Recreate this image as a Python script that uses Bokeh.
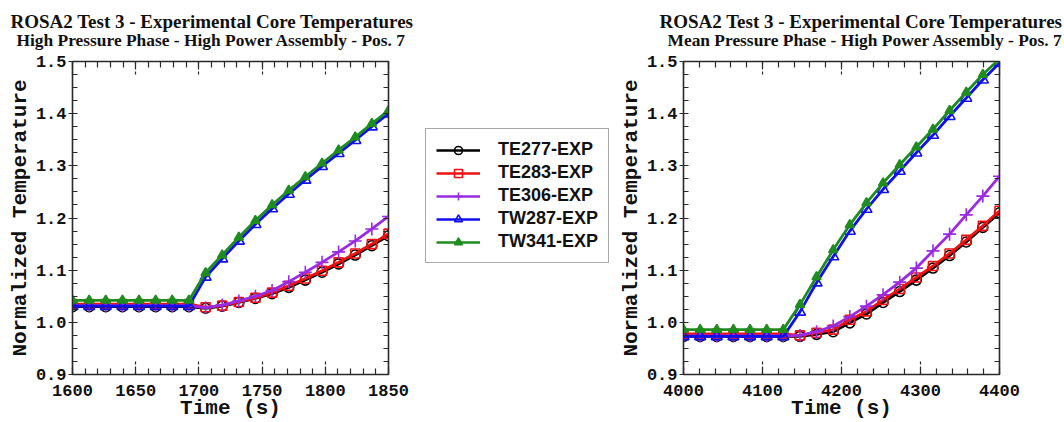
from bokeh.plotting import figure
from bokeh.layouts import row
from bokeh.models import (Range1d, LinearAxis, SingleIntervalTicker, Title, Legend,
                          LegendItem, PrintfTickFormatter)
from bokeh.embed import file_html
from bokeh.resources import INLINE

# ---------------- data ----------------
series_names = ["TE277-EXP", "TE283-EXP", "TE306-EXP", "TW287-EXP", "TW341-EXP"]

time_high = [1600.0, 1613.2, 1626.3, 1639.5, 1652.6, 1665.8, 1678.9, 1692.1, 1705.3, 1718.4,
             1731.6, 1744.7, 1757.9, 1771.1, 1784.2, 1797.4, 1810.5, 1823.7, 1836.8, 1850.0]
te277_high = [1.030, 1.030, 1.030, 1.030, 1.030, 1.030, 1.030, 1.030, 1.027, 1.031,
              1.038, 1.046, 1.055, 1.067, 1.081, 1.096, 1.112, 1.129, 1.147, 1.166]
te283_high = [1.035, 1.035, 1.035, 1.035, 1.035, 1.035, 1.035, 1.035, 1.029, 1.032,
              1.039, 1.047, 1.057, 1.070, 1.084, 1.099, 1.115, 1.132, 1.150, 1.170]
te306_high = [1.032, 1.032, 1.032, 1.032, 1.032, 1.032, 1.032, 1.032, 1.028, 1.033,
              1.041, 1.050, 1.061, 1.078, 1.096, 1.115, 1.135, 1.156, 1.179, 1.203]
tw287_high = [1.031, 1.031, 1.031, 1.031, 1.031, 1.031, 1.031, 1.031, 1.087, 1.122,
              1.156, 1.188, 1.218, 1.246, 1.273, 1.299, 1.324, 1.349, 1.375, 1.400]
tw341_high = [1.042, 1.042, 1.042, 1.042, 1.042, 1.042, 1.042, 1.042, 1.095, 1.129,
              1.163, 1.195, 1.225, 1.253, 1.279, 1.305, 1.330, 1.355, 1.381, 1.406]

time_mean = [4000.0, 4021.1, 4042.1, 4063.2, 4084.2, 4105.3, 4126.3, 4147.4, 4168.4, 4189.5,
             4210.5, 4231.6, 4252.6, 4273.7, 4294.7, 4315.8, 4336.8, 4357.9, 4378.9, 4400.0]
te277_mean = [0.973, 0.973, 0.973, 0.973, 0.973, 0.973, 0.973, 0.973, 0.977, 0.982,
              0.999, 1.016, 1.038, 1.059, 1.081, 1.104, 1.128, 1.154, 1.182, 1.210]
te283_mean = [0.978, 0.978, 0.978, 0.978, 0.978, 0.978, 0.978, 0.975, 0.980, 0.986,
              1.005, 1.021, 1.043, 1.064, 1.086, 1.108, 1.132, 1.158, 1.185, 1.214]
te306_mean = [0.974, 0.974, 0.974, 0.974, 0.974, 0.974, 0.974, 0.975, 0.982, 0.993,
              1.011, 1.031, 1.053, 1.077, 1.104, 1.137, 1.169, 1.206, 1.242, 1.280]
tw287_mean = [0.973, 0.973, 0.973, 0.973, 0.973, 0.973, 0.973, 1.020, 1.076, 1.126,
              1.175, 1.217, 1.255, 1.290, 1.325, 1.359, 1.395, 1.430, 1.465, 1.497]
tw341_mean = [0.986, 0.986, 0.986, 0.986, 0.986, 0.986, 0.986, 1.034, 1.087, 1.139,
              1.187, 1.229, 1.267, 1.302, 1.336, 1.370, 1.406, 1.441, 1.475, 1.505]

y_ticks_interval = 0.1

# ---------------- styles ----------------
STYLES = [
    dict(color="#000000", marker="circle", size=10, fill=None),
    dict(color="#ee1111", marker="square", size=9, fill=None),
    dict(color="#9a2be0", marker="cross", size=13, fill=None),
    dict(color="#1010ee", marker="triangle", size=11, fill=None),
    dict(color="#1f8c1f", marker="triangle", size=9, fill="#1f8c1f"),
]

MONO = "Liberation Mono"
SERIF = "Liberation Serif"
SANS = "Liberation Sans"
FRAME = "#2a2a2a"


def make_panel(t, ys, xr, x_interval, title1, title2, width, bl, br, off1, off2):
    p = figure(width=width, height=422, x_range=Range1d(*xr), y_range=Range1d(0.9, 1.5),
               output_backend="svg", toolbar_location=None, title=None,
               x_axis_type=None, y_axis_type=None,
               min_border_left=bl, min_border_right=br, min_border_top=61,
               min_border_bottom=47)
    p.outline_line_color = FRAME
    p.outline_line_width = 1.6
    p.background_fill_color = "white"
    p.border_fill_color = "white"

    xt = SingleIntervalTicker(interval=x_interval, num_minor_ticks=5)
    yt = SingleIntervalTicker(interval=y_ticks_interval, num_minor_ticks=4)

    common = dict(axis_line_color=FRAME, major_tick_line_color=FRAME,
                  minor_tick_line_color=FRAME, major_tick_line_width=1.2,
                  minor_tick_line_width=1.2)

    xb = LinearAxis(ticker=xt, axis_label="Time (s)", major_tick_in=14, major_tick_out=0,
                    minor_tick_in=6, minor_tick_out=0, major_tick_line_dash="3 2",
                    major_label_standoff=10, axis_label_standoff=-2,
                    major_label_text_font=MONO, major_label_text_font_style="bold",
                    major_label_text_font_size="17px", major_label_text_color="#111",
                    axis_label_text_font=MONO, axis_label_text_font_style="bold",
                    axis_label_text_font_size="21px", axis_label_text_color="#111", **common)
    xa = LinearAxis(ticker=xt, major_tick_in=14, major_tick_out=0,
                    minor_tick_in=6, minor_tick_out=0, major_tick_line_dash="3 2",
                    major_label_text_font_size="1px", major_label_text_color=None,
                    major_label_standoff=0, **common)
    yl = LinearAxis(ticker=yt, axis_label="Normalized Temperature",
                    formatter=PrintfTickFormatter(format="%.1f"),
                    major_tick_in=0, major_tick_out=4, minor_tick_in=5, minor_tick_out=0,
                    major_label_standoff=2, axis_label_standoff=1,
                    major_label_text_font=MONO, major_label_text_font_style="bold",
                    major_label_text_font_size="17px", major_label_text_color="#111",
                    axis_label_text_font=MONO, axis_label_text_font_style="bold",
                    axis_label_text_font_size="21px", axis_label_text_color="#111", **common)
    yr = LinearAxis(ticker=yt, major_tick_in=5, major_tick_out=0, minor_tick_in=5,
                    minor_tick_out=0, major_label_text_font_size="1px",
                    major_label_text_color=None, major_label_standoff=0, **common)
    p.add_layout(xb, "below")
    p.add_layout(yl, "left")
    p.add_layout(yr, "right")
    p.add_layout(xa, "above")

    p.add_layout(Title(text=title2, align="left", offset=off2, text_font=SERIF,
                       text_font_style="bold", text_font_size="17.4px", text_color="#111",
                       standoff=24), "above")
    p.add_layout(Title(text=title1, align="left", offset=off1, text_font=SERIF,
                       text_font_style="bold", text_font_size="19px", text_color="#111",
                       standoff=-32), "above")

    for y, st in zip(ys, STYLES):
        p.line(t, y, line_color=st["color"], line_width=2.8)
        p.scatter(t, y, marker=st["marker"], size=st["size"], line_color=st["color"],
                  fill_color=st["fill"], line_width=1.6)
    return p


p1 = make_panel(time_high, [te277_high, te283_high, te306_high, tw287_high, tw341_high],
                (1600, 1850), 50,
                "ROSA2 Test 3 - Experimental Core Temperatures",
                "High Pressure Phase - High Power Assembly - Pos. 7",
                420, 72, 32, -62, -56)
p2 = make_panel(time_mean, [te277_mean, te283_mean, te306_mean, tw287_mean, tw341_mean],
                (4000, 4400), 100,
                "ROSA2 Test 3 - Experimental Core Temperatures",
                "Mean Pressure Phase - High Power Assembly - Pos. 7",
                449, 68, 65, -24, -16)

# ---------------- legend panel ----------------
# The legend's renderers use the high-pressure data, but this panel's ranges keep
# them out of view, so only their legend glyphs are shown.
pl = figure(width=195, height=422, output_backend="svg", toolbar_location=None, title=None,
            x_axis_type=None, y_axis_type=None, min_border=0, outline_line_color=None,
            x_range=Range1d(0, 1), y_range=Range1d(0, 1))
pl.border_fill_color = "white"
items = []
for name, st, y in zip(series_names, STYLES,
                       [te277_high, te283_high, te306_high, tw287_high, tw341_high]):
    lr = pl.line(x=time_high, y=y, line_color=st["color"], line_width=2.6)
    sr = pl.scatter(x=time_high, y=y, marker=st["marker"], size=st["size"],
                    line_color=st["color"], fill_color=st["fill"], line_width=1.6)
    items.append(LegendItem(label=name, renderers=[lr, sr]))
legend = Legend(items=items, location=(5, 111), padding=10, spacing=2, margin=0,
                glyph_width=44, glyph_height=20, label_height=20, label_standoff=18,
                label_text_font=SANS, label_text_font_style="bold",
                label_text_font_size="18px", label_text_color="#111",
                border_line_color="#555", border_line_width=1.5,
                background_fill_color="white", background_fill_alpha=1.0)
pl.add_layout(legend, "center")

layout = row(p1, pl, p2, spacing=0)

open("out.html", "w").write(file_html(layout, INLINE))
